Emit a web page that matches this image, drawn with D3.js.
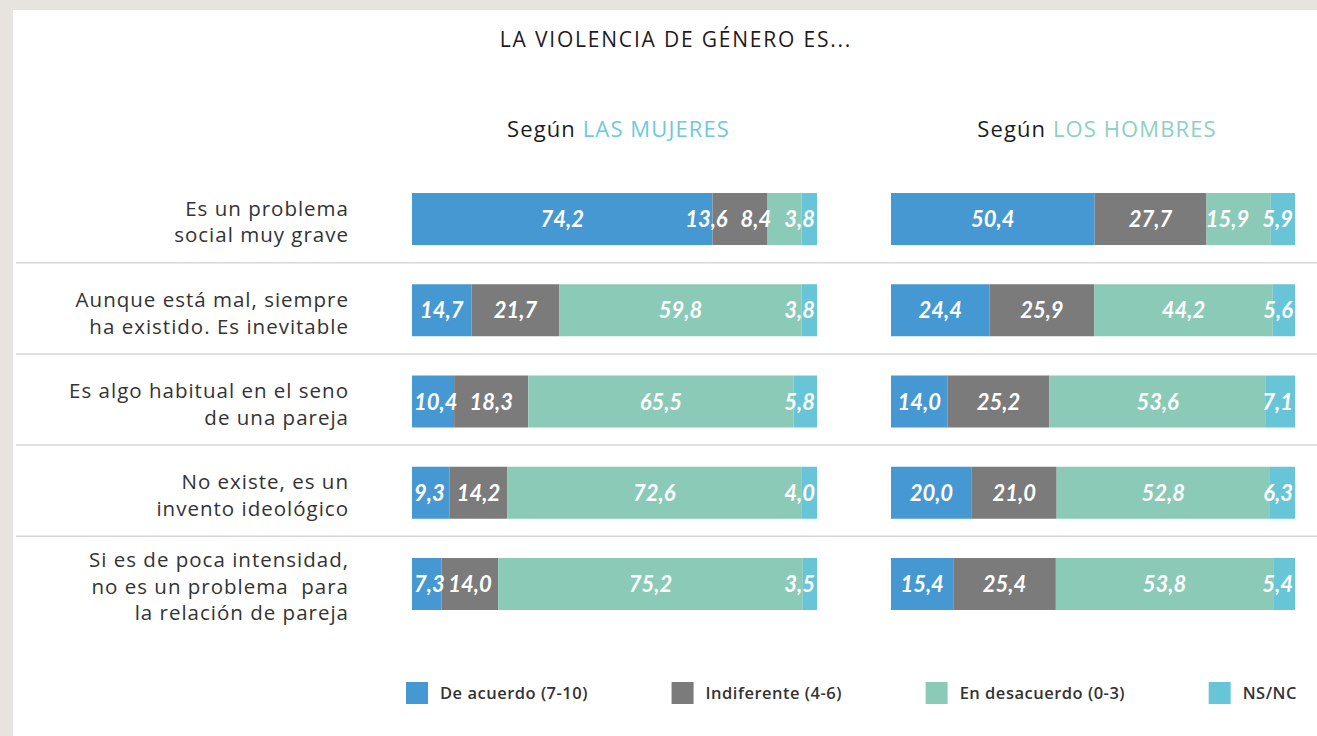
<!DOCTYPE html>
<html>
<head>
<meta charset="utf-8">
<script src="https://cdn.jsdelivr.net/npm/d3@7"></script>
<style>
  body { margin: 0; background: #e7e4e0; }
  svg { display: block; }
</style>
</head>
<body>
<div id="chart"></div>
<script>
// rows of the chart (line breaks as in the original)
var categories = [
    ["Es un problema", "social muy grave"],
    ["Aunque está mal, siempre", "ha existido. Es inevitable"],
    ["Es algo habitual en el seno", "de una pareja"],
    ["No existe, es un", "invento ideológico"],
    ["Si es de poca intensidad,", "no es un problema  para", "la relación de pareja"]
];

var seriesNames = ["De acuerdo (7-10)", "Indiferente (4-6)", "En desacuerdo (0-3)", "NS/NC"];
var colors = ["#4698d3", "#7b7b7b", "#8acab6", "#68c5d8"];

// Según las mujeres
var acuerdoM = [74.2, 14.7, 10.4, 9.3, 7.3];
var indiferenteM = [13.6, 21.7, 18.3, 14.2, 14.0];
var desacuerdoM = [8.4, 59.8, 65.5, 72.6, 75.2];
var nsncM = [3.8, 3.8, 5.8, 4.0, 3.5];

// Según los hombres
var acuerdoH = [50.4, 24.4, 14.0, 20.0, 15.4];
var indiferenteH = [27.7, 25.9, 25.2, 21.0, 25.4];
var desacuerdoH = [15.9, 44.2, 53.6, 52.8, 53.8];
var nsncH = [5.9, 5.6, 7.1, 6.3, 5.4];

var width = 1317,
    height = 736;

var textFont = "'Open Sans', sans-serif";
var numFont = "Lato, sans-serif";

var formatComma = function (v) { return d3.format(".1f")(v).replace(".", ","); };

var svg = d3.select("#chart")
    .append("svg")
    .attr("width", width)
    .attr("height", height);

// white panel on the grey slide background
svg.append("rect")
    .attr("x", 13).attr("y", 10)
    .attr("width", width - 13).attr("height", height - 10)
    .attr("fill", "#ffffff");

var yScale = d3.scaleBand()
    .domain(d3.range(categories.length))
    .range([193, 610])
    .paddingInner(0.43)
    .paddingOuter(0);

var groups = [
    { key: "m", label: "LAS MUJERES", color: "#6fc8df", x: d3.scaleLinear().domain([0, 100]).range([412, 817]),
      series: [acuerdoM, indiferenteM, desacuerdoM, nsncM] },
    { key: "h", label: "LOS HOMBRES", color: "#8cd0bf", x: d3.scaleLinear().domain([0, 100]).range([891, 1295]),
      series: [acuerdoH, indiferenteH, desacuerdoH, nsncH] }
];

// title
svg.append("text")
    .attr("x", 676).attr("y", 47)
    .attr("text-anchor", "middle")
    .style("font-family", textFont)
    .style("font-size", "21px")
    .style("letter-spacing", "1.8px")
    .style("fill", "#1c1c1c")
    .text("LA VIOLENCIA DE GÉNERO ES...");

// separators between rows
var step = yScale.step(), bw = yScale.bandwidth();
svg.append("g")
    .selectAll("line")
    .data(d3.range(categories.length - 1))
    .join("line")
    .attr("x1", 16).attr("x2", width)
    .attr("y1", d => yScale(d) + bw + (step - bw) / 2 - 2)
    .attr("y2", d => yScale(d) + bw + (step - bw) / 2 - 2)
    .attr("stroke", "#d6d6d6")
    .attr("stroke-width", 1.5);

// row labels
var rowLabels = svg.append("g")
    .selectAll("text")
    .data(categories)
    .join("text")
    .attr("text-anchor", "end")
    .style("font-family", textFont)
    .style("font-size", "20.5px")
    .style("letter-spacing", "1px")
    .style("fill", "#333333");

rowLabels.each(function (lines, i) {
    var cy = yScale(i) + bw / 2;
    var lh = 26.5;
    d3.select(this).selectAll("tspan")
        .data(lines)
        .join("tspan")
        .attr("x", 349)
        .attr("y", (l, j) => cy + (j - (lines.length - 1) / 2) * lh + 10)
        .style("white-space", "pre")
        .text(l => l);
});

groups.forEach(function (g) {
    var x = g.x;
    var cx = (x.range()[0] + x.range()[1]) / 2;

    var head = svg.append("text")
        .attr("x", cx + 4).attr("y", 137)
        .attr("text-anchor", "middle")
        .style("font-family", textFont)
        .style("font-size", "22px")
        .style("letter-spacing", "1.1px");
    head.append("tspan").style("fill", "#1c1c1c").text("Según ");
    head.append("tspan").style("fill", g.color).text(g.label);

    categories.forEach(function (c, i) {
        var vals = g.series.map(s => s[i]);
        var starts = [];
        var acc = 0;
        vals.forEach(v => { starts.push(acc); acc += v; });
        var segs = vals.map((v, k) => ({ k: k, v: v, x0: starts[k], x1: starts[k] + v }));
        var last = segs[segs.length - 1];
        last.x1 = 100; // close rounding gaps

        var row = svg.append("g");
        row.selectAll("rect")
            .data(segs)
            .join("rect")
            .attr("x", d => x(d.x0))
            .attr("y", yScale(i))
            .attr("width", d => x(d.x1) - x(d.x0))
            .attr("height", bw)
            .attr("fill", d => colors[d.k]);

        var labels = row.selectAll("text")
            .data(segs)
            .join("text")
            .attr("y", yScale(i) + bw / 2 + 8)
            .attr("text-anchor", "start")
            .style("font-family", numFont)
            .style("font-size", "22px")
            .style("font-weight", "bold")
            .style("font-style", "italic")
            .style("fill", "#ffffff")
            .text(d => formatComma(d.v));

        // place labels right to left so small segments do not collide
        var nodes = labels.nodes();
        var limit = x(100) - 2;
        for (var k = nodes.length - 1; k >= 0; k--) {
            var w = nodes[k].getComputedTextLength();
            var d = segs[k];
            var left;
            if (k === nodes.length - 1) {
                left = limit - w;
            } else {
                left = (x(d.x0) + x(d.x1)) / 2 - w / 2;
                if (left + w > limit) left = limit - w;
                if (left < x(0) + 2) left = x(0) + 2;
            }
            d3.select(nodes[k]).attr("x", left);
            limit = left - 13;
        }
    });
});

// legend, spread from the first bar start to the last bar end
var legend = svg.append("g");
var items = legend.selectAll("g")
    .data(seriesNames)
    .join("g");

items.append("rect")
    .attr("width", 22).attr("height", 22)
    .attr("y", 682)
    .attr("fill", (d, i) => colors[i]);

items.append("text")
    .attr("y", 699)
    .style("font-family", textFont)
    .style("font-size", "16.5px")
    .style("font-weight", "600")
    .style("letter-spacing", "0.5px")
    .style("fill", "#333333")
    .text(d => d);

var widths = items.select("text").nodes().map(n => 34 + n.getComputedTextLength());
var legStart = 406, legEnd = 1297;
var gap = (legEnd - legStart - d3.sum(widths)) / (widths.length - 1);
var pos = legStart;
items.each(function (d, i) {
    var el = d3.select(this);
    el.select("rect").attr("x", pos);
    el.select("text").attr("x", pos + 34);
    pos += widths[i] + gap;
});
</script>
</body>
</html>
